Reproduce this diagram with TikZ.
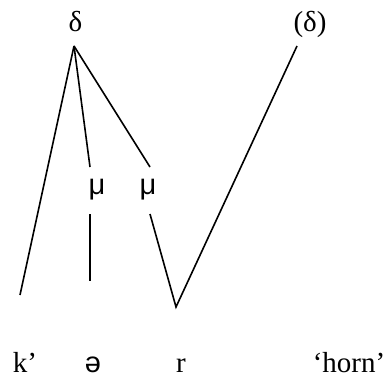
\documentclass[tikz,border=0pt]{standalone}
\usepackage{fontspec}
\setmainfont{Liberation Serif}
\newfontfamily\sansalt{Liberation Sans}
\begin{document}
\begin{tikzpicture}[x=1pt,y=-1pt,
  lbl/.style={inner sep=0pt,anchor=base,font=\fontsize{29}{34}\selectfont},
  slbl/.style={inner sep=0pt,anchor=base,font=\fontsize{29}{34}\selectfont\sansalt},
  assoc/.style={line width=1.6pt}]
\useasboundingbox (0,0) rectangle (387,377);
% labels
\node[lbl]  (delta)  at (75.5,32) {δ};
\node[lbl]  (delta2) at (310,32)  {(δ)};
\node[slbl] (mu1)    at (97,194)  {μ};
\node[slbl] (mu2)    at (148,194) {μ};
\node[lbl]  (k)      at (25,372)  {k’};
\node[slbl] (schwa)  at (93,372)  {ə};
\node[lbl]  (r)      at (181,372) {r};
\node[lbl]  (horn)   at (349,372) {‘horn’};
% line end points
\coordinate (apex)  at (74,46);
\coordinate (apex2) at (297,46);
\coordinate (kbot)  at (20,295);
\coordinate (m1top) at (90,167);
\coordinate (m2top) at (150,167);
\coordinate (m1low) at (90,214);
\coordinate (m1bot) at (90,281);
\coordinate (m2low) at (150,214);
\coordinate (vtx)   at (176,307);
% association lines
\draw[assoc] (apex) -- (kbot);
\draw[assoc] (apex) -- (m1top);
\draw[assoc] (apex) -- (m2top);
\draw[assoc] (m1low) -- (m1bot);
\draw[assoc] (m2low) -- (vtx) -- (apex2);
\end{tikzpicture}
\end{document}
